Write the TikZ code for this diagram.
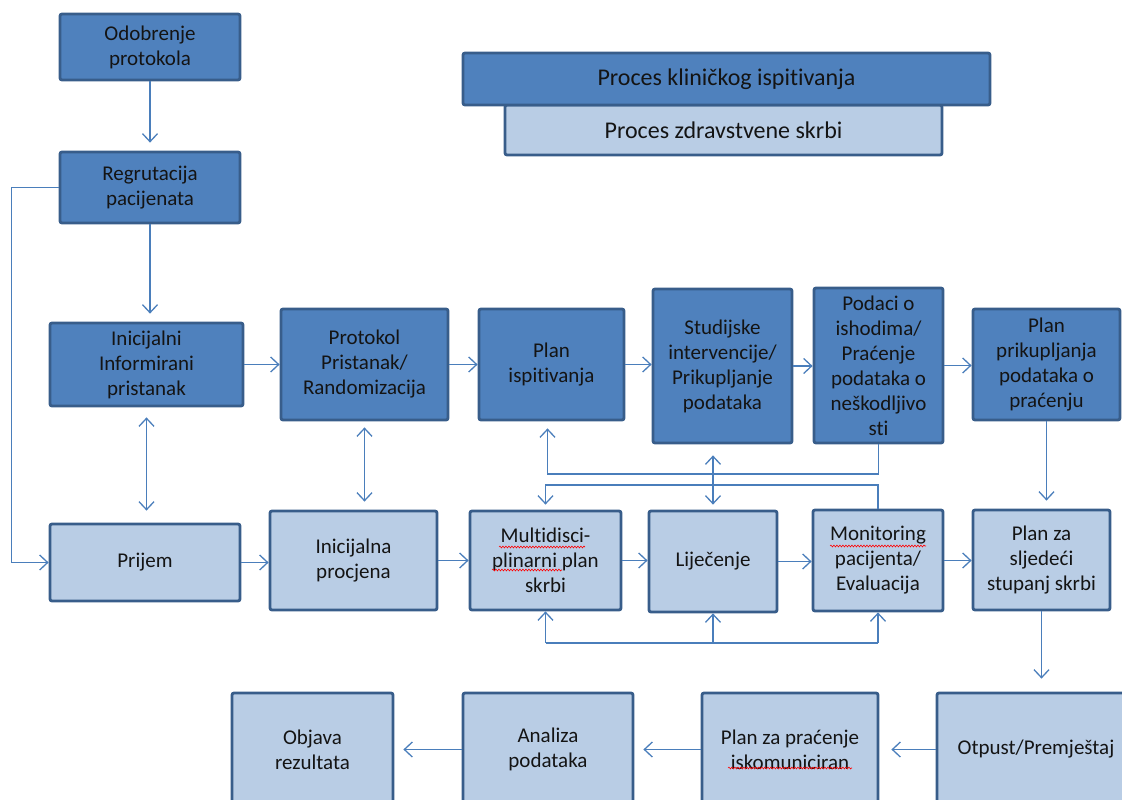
\documentclass[tikz,border=0pt]{standalone}
\usepackage{fontspec}
\setmainfont{Carlito}[Ligatures=NoCommon]
\usetikzlibrary{arrows.meta,decorations.pathmorphing}
\definecolor{dkfill}{HTML}{4F81BD}
\definecolor{ltfill}{HTML}{B9CDE5}
\definecolor{bord}{HTML}{385D8A}
\definecolor{linec}{HTML}{4A7EBB}
\definecolor{txt}{HTML}{141414}
\newcommand\bx[7]{\node[#1, minimum width={(#5-#3)*1pt}, minimum height={(#6-#4)*1pt}] (#2) at ({(#3+#5)/2},{(#4+#6)/2}) {#7};}
\begin{document}
\begin{tikzpicture}[x=1pt,y=-1pt,
  box/.style={draw=bord, line width=2.8pt, rounded corners=2pt, align=center, inner sep=0pt, text=txt, font=\fontsize{21}{25}\selectfont},
  dk/.style={box, fill=dkfill},
  lt/.style={box, fill=ltfill},
  hdr/.style={font=\fontsize{24}{28}\selectfont},
  conn/.style={draw=linec, line width=1.3pt, -{Straight Barb[length=8pt,width=15pt]}},
  dconn/.style={draw=linec, line width=1.3pt, {Straight Barb[length=8pt,width=15pt]}-{Straight Barb[length=8pt,width=15pt]}},
  plain/.style={draw=linec, line width=1.3pt},
  spell/.style={draw=red, line width=0.6pt, decorate, decoration={snake, amplitude=0.9pt, segment length=3pt}}
]
\useasboundingbox (0,0) rectangle (1122,800);
\clip (0,0) rectangle (1122,800);
% header legend
\bx{lt,hdr}{hcare}{505}{105}{942}{155}{Proces zdravstvene skrbi}
\bx{dk,hdr}{htrial}{463}{53}{990}{105}{Proces kliničkog ispitivanja}
% clinical trial row
\bx{dk}{odob}{60}{14}{240}{80}{Odobrenje\\protokola}
\bx{dk}{regrut}{60}{152}{240}{223}{Regrutacija\\pacijenata}
\bx{dk}{inic}{50}{323}{243}{406}{Inicijalni\\Informirani\\pristanak}
\bx{dk}{prot}{281}{309}{448}{420}{Protokol\\Pristanak/\\Randomizacija}
\bx{dk}{plan}{479}{309}{624}{420}{Plan\\ispitivanja}
\bx{dk}{stud}{653}{289}{792}{443}{Studijske\\intervencije/\\Prikupljanje\\podataka}
\bx{dk}{pod}{814}{288}{943}{443}{Podaci o\\ishodima/\\Praćenje\\podataka o\\neškodljivo\\sti}
\bx{dk}{prik}{973}{309}{1120}{420}{Plan\\prikupljanja\\podataka o\\praćenju}
% care row
\bx{lt}{prijem}{50}{524}{240}{601}{Prijem}
\bx{lt}{procj}{270}{511}{437}{610}{Inicijalna\\procjena}
\bx{lt}{multi}{470}{511}{621}{610}{Multidisci-\\plinarni plan\\skrbi}
\bx{lt}{lij}{649}{511}{777}{612}{Liječenje}
\bx{lt}{mon}{813}{510}{943}{611}{Monitoring\\pacijenta/\\Evaluacija}
\bx{lt}{planza}{973}{510}{1110}{610}{Plan za\\sljedeći\\stupanj skrbi}
% bottom row
\bx{lt}{otpust}{937}{693}{1135}{806}{Otpust/Premještaj}
\bx{lt}{prac}{702}{693}{878}{806}{Plan za praćenje\\iskomuniciran}
\bx{lt}{analiza}{463}{693}{633}{806}{Analiza\\podataka}
\bx{lt}{objava}{232}{693}{393}{806}{Objava\\rezultata}
% route levels
\coordinate (upper) at (0,474);
\coordinate (lower) at (0,485);
\coordinate (bus) at (0,643);
% connectors
\draw[conn] (odob.south) -- ([yshift=8pt]regrut.north);
\draw[conn] (regrut.south) -- ([yshift=8pt]regrut.south |- inic.north);
\draw[conn] (regrut.west) -- ++(-47,0) |- (prijem.west);
\draw[dconn] ([yshift=-10pt]inic.south) -- ([yshift=12pt]inic.south |- prijem.north);
\draw[conn] (inic.east) -- (inic.east -| prot.west);
\draw[dconn] ([yshift=-6pt]prot.south) -- ([yshift=8pt]prot.south |- procj.north);
\draw[conn] (prot.east) -- (prot.east -| plan.west);
\draw[conn] (plan.east) -- (plan.east -| stud.west);
\draw[conn] (stud.east) -- (stud.east -| pod.west);
\draw[conn] (pod.east) -- (pod.east -| prik.west);
\draw[conn] (prijem.east) -- (prijem.east -| procj.west);
\draw[conn] (procj.east) -- (procj.east -| multi.west);
\draw[conn] (multi.east) -- (multi.east -| lij.west);
\draw[conn] (lij.east) -- (lij.east -| mon.west);
\draw[conn] (mon.east) -- (mon.east -| planza.west);
\draw[conn] (pod.south) -- (pod.south |- upper) -| ([xshift=-4pt,yshift=-7pt]plan.south);
\draw[conn] (mon.north) -- (mon.north |- lower) -| ([yshift=5pt]multi.north);
\draw[dconn] ([yshift=-11pt]stud.south -| lij.north) -- ([yshift=5pt]lij.north);
\draw[plain] (multi.south |- bus) -- (mon.south |- bus);
\draw[conn] (multi.south |- bus) -- (multi.south);
\draw[conn] (lij.south |- bus) -- (lij.south);
\draw[conn] (mon.south |- bus) -- (mon.south);
\draw[conn] (prik.south) -- ([yshift=8pt]prik.south |- planza.north);
\draw[conn] (planza.south) -- ([yshift=13pt]planza.south |- otpust.north);
\draw[conn] (otpust.west) -- ([xshift=12pt]otpust.west -| prac.east);
\draw[conn] (prac.west) -- ([xshift=9pt]prac.west -| analiza.east);
\draw[conn] (analiza.west) -- ([xshift=9pt]analiza.west -| objava.east);
% spell-check marks
\draw[spell] (499,547) -- (585,547);
\draw[spell] (492,570) -- (562,570);
\draw[spell] (830,546) -- (926,546);
\draw[spell] (728,768) -- (852,768);
\end{tikzpicture}
\end{document}
